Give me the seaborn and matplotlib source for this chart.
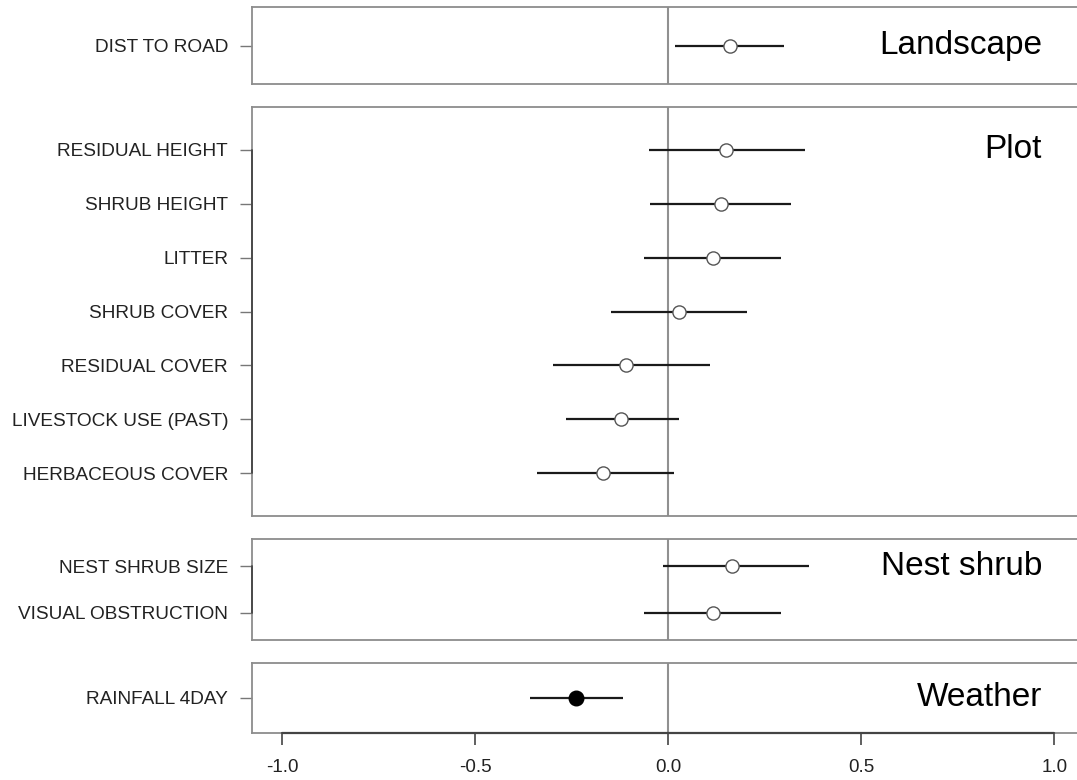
import pandas as pd
import matplotlib
matplotlib.use("Agg")
import matplotlib.pyplot as plt
import seaborn as sns

# data
panels = ["Landscape", "Plot", "Nest shrub", "Weather"]

landscape_vars = ["DIST TO ROAD"]
landscape_est = [0.161]
landscape_lo = [0.018]
landscape_hi = [0.300]

plot_vars = ["RESIDUAL HEIGHT", "SHRUB HEIGHT", "LITTER", "SHRUB COVER",
             "RESIDUAL COVER", "LIVESTOCK USE (PAST)", "HERBACEOUS COVER"]
plot_est = [0.150, 0.137, 0.116, 0.029, -0.109, -0.122, -0.169]
plot_lo = [-0.049, -0.047, -0.063, -0.148, -0.300, -0.264, -0.339]
plot_hi = [0.353, 0.318, 0.293, 0.205, 0.107, 0.027, 0.015]

nest_vars = ["NEST SHRUB SIZE", "VISUAL OBSTRUCTION"]
nest_est = [0.165, 0.117]
nest_lo = [-0.013, -0.062]
nest_hi = [0.365, 0.291]

weather_vars = ["RAINFALL 4DAY"]
weather_est = [-0.24]
weather_lo = [-0.357]
weather_hi = [-0.118]
weather_sig = [True]

x_ticks = [-1.0, -0.5, 0.0, 0.5, 1.0]


def make_df(variables, est, lo, hi, sig=None):
    if sig is None:
        sig = [False] * len(variables)
    return pd.DataFrame({"variable": variables, "est": est, "lo": lo, "hi": hi,
                         "sig": sig, "row": range(len(variables))})


dfs = [
    make_df(landscape_vars, landscape_est, landscape_lo, landscape_hi),
    make_df(plot_vars, plot_est, plot_lo, plot_hi),
    make_df(nest_vars, nest_est, nest_lo, nest_hi),
    make_df(weather_vars, weather_est, weather_lo, weather_hi, weather_sig),
]

sns.set_style("white")
plt.rcParams["font.family"] = ["Liberation Sans", "DejaVu Sans"]

W, H = 1077, 780
fig = plt.figure(figsize=(W / 100, H / 100), dpi=100)

# pixel boxes (top, bottom) and vertical padding in row units
boxes = [(7, 84, 0.5), (107, 516, 0.79), (539, 640, 0.575), (663, 733, 0.5)]
left_px, right_px = 252, 1080
zero_px, unit_px = 668.3, 386.0
xlim = ((left_px - zero_px) / unit_px, (right_px - zero_px) / unit_px)
title_x = (1042 - zero_px) / unit_px

box_col = "#8c8c8c"
axis_col = "#444444"

for i, (name, df) in enumerate(zip(panels, dfs)):
    top, bottom, pad = boxes[i]
    ax = fig.add_axes([left_px / W, 1 - bottom / H,
                       (right_px - left_px) / W, (bottom - top) / H])
    n = len(df)

    ax.axvline(0, color="#909090", lw=1.5, zorder=1)
    ax.hlines(df["row"], df["lo"], df["hi"], color="#1a1a1a", lw=1.6, zorder=2)
    open_pts = df[~df["sig"]]
    fill_pts = df[df["sig"]]
    sns.scatterplot(data=open_pts, x="est", y="row", ax=ax, s=90,
                    facecolor="white", edgecolor="#555555", linewidth=1.0, zorder=3)
    sns.scatterplot(data=fill_pts, x="est", y="row", ax=ax, s=110,
                    color="black", edgecolor="black", linewidth=1, zorder=3)

    ax.set_xlim(*xlim)
    ax.set_ylim(n - 1 + pad, -pad)
    ax.set_yticks(df["row"])
    ax.set_yticklabels(df["variable"], fontsize=13.7, color="#222222")
    ax.tick_params(axis="y", length=8.6, width=1, color="#777777", pad=8.6, left=True)
    ax.set_xlabel("")
    ax.set_ylabel("")

    for side in ["top", "bottom", "left"]:
        ax.spines[side].set_color(box_col)
        ax.spines[side].set_linewidth(1.3)
    ax.spines["right"].set_visible(False)

    if n > 1:
        ax.plot([xlim[0], xlim[0]], [0, n - 1], color=axis_col, lw=1.3,
                clip_on=False, zorder=5)

    ax.text(title_x, 0, name, fontsize=24, ha="right", va="center", color="black")

    if i < 3:
        ax.set_xticks([])
    else:
        ax.set_xticks(x_ticks)
        ax.set_xticklabels([f"{t:.1f}" for t in x_ticks], fontsize=13.5, color="#222222")
        ax.tick_params(axis="x", length=8.6, width=1.2, color=axis_col, pad=10, bottom=True)
        ax.plot([x_ticks[0], x_ticks[-1]], [n - 1 + pad, n - 1 + pad],
                color=axis_col, lw=1.6, clip_on=False, zorder=5)

fig.savefig("out.png", dpi=100)
